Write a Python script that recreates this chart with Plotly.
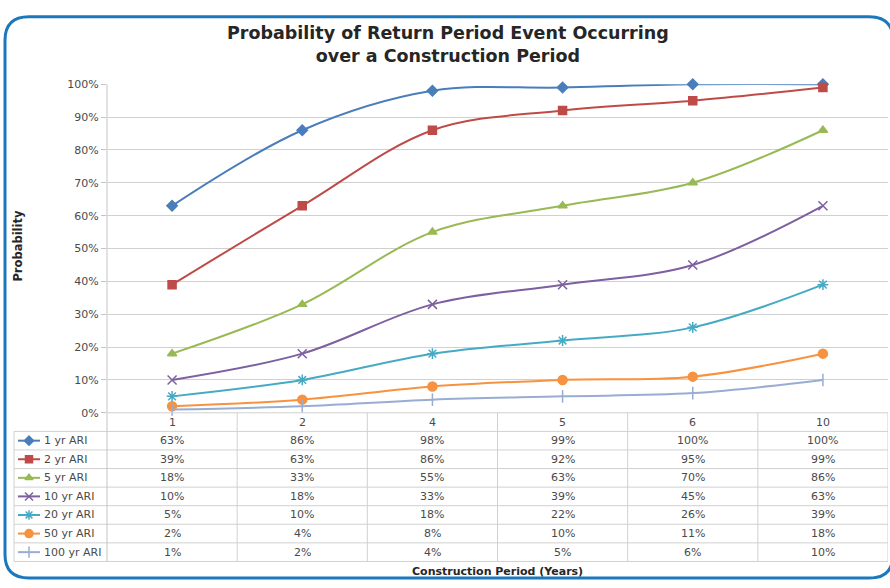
import plotly.graph_objects as go

# Construction period (years) and probability (%) per annual recurrence interval
periods = ["1", "2", "4", "5", "6", "10"]
series_names = ["1 yr ARI", "2 yr ARI", "5 yr ARI", "10 yr ARI",
                "20 yr ARI", "50 yr ARI", "100 yr ARI"]
ari_1 = [63, 86, 98, 99, 100, 100]
ari_2 = [39, 63, 86, 92, 95, 99]
ari_5 = [18, 33, 55, 63, 70, 86]
ari_10 = [10, 18, 33, 39, 45, 63]
ari_20 = [5, 10, 18, 22, 26, 39]
ari_50 = [2, 4, 8, 10, 11, 18]
ari_100 = [1, 2, 4, 5, 6, 10]
series_values = [ari_1, ari_2, ari_5, ari_10, ari_20, ari_50, ari_100]
y_ticks = [0, 10, 20, 30, 40, 50, 60, 70, 80, 90, 100]

# Styling
colors = ["#4a7ebb", "#be4b48", "#98b954", "#7d60a0",
          "#46aac5", "#f69240", "#98acd4"]
symbols = ["diamond", "square", "triangle-up", "x-thin",
           "asterisk", "circle", "line-ns"]
sizes = [8, 8, 8, 9, 9, 9, 9]

W, H = 890, 588
PLOT_L, PLOT_R = 107, 888
PLOT_T, PLOT_B = 80, 416
TABLE_TOP, ROW_H = 435, 19
TABLE_L = 14
TABLE_B = TABLE_TOP + ROW_H * len(series_names)
GRID = "#d0d0d0"
TXT = "#4a4a4a"
FONT = "DejaVu Sans"


def ydom(p):
    """Pixel row -> paper fraction."""
    return 1 - p / H


fig = go.Figure()

for name, vals, c, s, sz in zip(series_names, series_values, colors, symbols, sizes):
    fig.add_trace(go.Scatter(
        x=periods, y=[v / 100 for v in vals], name=name,
        mode="lines+markers", cliponaxis=False,
        line=dict(color=c, width=2, shape="spline", smoothing=1),
        marker=dict(symbol=s, size=sz, color=c, line=dict(color=c, width=1.5)),
        xaxis="x", yaxis="y", showlegend=False,
    ))

# Legend keys inside the data table (pixel-space overlay axes)
for i, (name, c, s, sz) in enumerate(zip(series_names, colors, symbols, sizes)):
    yc = TABLE_TOP + ROW_H * (i + 0.5)
    fig.add_trace(go.Scatter(
        x=[18, 40], y=[yc, yc], mode="lines", cliponaxis=False,
        line=dict(color=c, width=2), xaxis="x2", yaxis="y2",
        showlegend=False, hoverinfo="skip",
    ))
    fig.add_trace(go.Scatter(
        x=[29], y=[yc], mode="markers", cliponaxis=False,
        marker=dict(symbol=s, size=sz - 1, color=c, line=dict(color=c, width=1.5)),
        xaxis="x2", yaxis="y2", showlegend=False, hoverinfo="skip",
    ))
    fig.add_annotation(x=42, y=yc, xref="x2", yref="y2", text=name,
                       showarrow=False, xanchor="left", yanchor="middle",
                       font=dict(family=FONT, size=11, color=TXT))
    for j, v in enumerate(series_values[i]):
        fig.add_annotation(x=j, y=yc, xref="x", yref="y2", text=f"{v}%",
                           showarrow=False, xanchor="center", yanchor="middle",
                           font=dict(family=FONT, size=11, color=TXT))

# Category header row of the table
for j, p in enumerate(periods):
    fig.add_annotation(x=j, y=(PLOT_B + TABLE_TOP) / 2 + 0.5, xref="x", yref="y2",
                       text=p, showarrow=False, xanchor="center", yanchor="middle",
                       font=dict(family=FONT, size=11, color=TXT))

shapes = []
line_style = dict(color=GRID, width=1)
# horizontal table rules
shapes.append(dict(type="line", xref="x2", yref="y2", x0=PLOT_L, x1=PLOT_R,
                   y0=PLOT_B, y1=PLOT_B, line=line_style))
for k in range(len(series_names) + 1):
    yy = TABLE_TOP + ROW_H * k
    shapes.append(dict(type="line", xref="x2", yref="y2", x0=TABLE_L, x1=PLOT_R,
                       y0=yy, y1=yy, line=line_style))
# vertical table rules
shapes.append(dict(type="line", xref="x2", yref="y2", x0=TABLE_L, x1=TABLE_L,
                   y0=TABLE_TOP, y1=TABLE_B, line=line_style))
shapes.append(dict(type="line", xref="x2", yref="y2", x0=PLOT_L, x1=PLOT_L,
                   y0=PLOT_T, y1=TABLE_B, line=dict(color="#c4c4c4", width=1)))
for j in range(len(periods)):
    shapes.append(dict(type="line", xref="x", yref="y2", x0=j + 0.5, x1=j + 0.5,
                       y0=PLOT_B, y1=TABLE_B, line=line_style))

# rounded frame
bl, bt, br, bb, r = 5, 11, 893, 585, 24
frame = (f"M {bl + r},{bt} L {br - r},{bt} Q {br},{bt} {br},{bt + r} "
         f"L {br},{bb - r} Q {br},{bb} {br - r},{bb} L {bl + r},{bb} "
         f"Q {bl},{bb} {bl},{bb - r} L {bl},{bt + r} Q {bl},{bt} {bl + r},{bt} Z")
shapes.append(dict(type="path", xref="x2", yref="y2", path=frame,
                   line=dict(color="#1b78bc", width=3), layer="above"))
fig.update_layout(shapes=shapes)

# Titles
fig.add_annotation(x=448, y=39.5, xref="x2", yref="y2",
                   text="<b>Probability of Return Period Event Occurring<br>over a Construction Period</b>",
                   showarrow=False, xanchor="center", yanchor="middle",
                   font=dict(family=FONT, size=17.5, color="#262626"))
fig.add_annotation(x=18, y=245, xref="x2", yref="y2", text="<b>Probability</b>",
                   textangle=-90, showarrow=False, xanchor="center", yanchor="middle",
                   font=dict(family=FONT, size=11.5, color="#262626"))
fig.add_annotation(x=497, y=578, xref="x2", yref="y2",
                   text="<b>Construction Period (Years)</b>",
                   showarrow=False, xanchor="center", yanchor="middle",
                   font=dict(family=FONT, size=11, color="#262626"))

fig.update_layout(
    width=W, height=H,
    margin=dict(l=0, r=0, t=0, b=0, pad=0),
    paper_bgcolor="white", plot_bgcolor="rgba(0,0,0,0)",
    xaxis=dict(type="category", categoryorder="array", categoryarray=periods,
               range=[-0.5, len(periods) - 0.5],
               domain=[PLOT_L / W, PLOT_R / W], anchor="y",
               showticklabels=False, showgrid=False, zeroline=False,
               showline=False, ticks=""),
    yaxis=dict(range=[0, 1], domain=[ydom(PLOT_B), ydom(PLOT_T)], anchor="x",
               tickvals=[t / 100 for t in y_ticks],
               ticktext=[f"{t}%" for t in y_ticks],
               tickfont=dict(family=FONT, size=11, color=TXT),
               ticks="outside", ticklen=5, tickcolor="#c4c4c4",
               showgrid=True, gridcolor=GRID, gridwidth=1,
               zeroline=False, showline=False),
    xaxis2=dict(range=[0, W], domain=[0, 1], anchor="y2", visible=False,
                fixedrange=True),
    yaxis2=dict(range=[H, 0], domain=[0, 1], anchor="x2", visible=False,
                fixedrange=True),
)

fig.write_html("out.html")
